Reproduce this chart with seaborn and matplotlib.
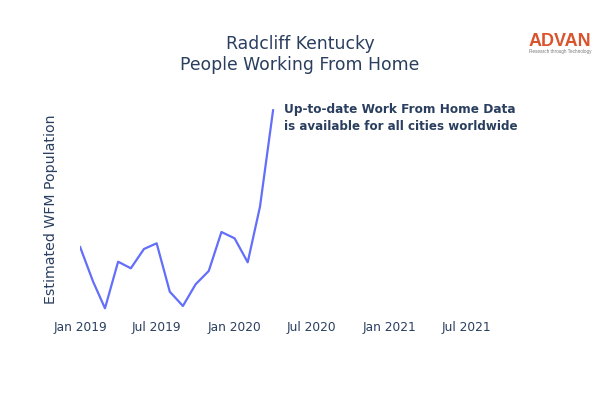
import pandas as pd
import matplotlib
matplotlib.use("Agg")
import matplotlib.pyplot as plt
import seaborn as sns

# Values (the y axis has no tick labels)
months = pd.date_range("2019-01-01", "2020-04-01", freq="MS")
wfh_population = [73.3, 38.3, 11.7, 58.3, 51.7, 71, 76.7, 28.3, 14, 35.7, 49, 88, 81.7, 57.7, 113.3, 210]
tick_dates = pd.to_datetime(["2019-01-01", "2019-07-01", "2020-01-01", "2020-07-01", "2021-01-01", "2021-07-01"])
tick_labels = ["Jan 2019", "Jul 2019", "Jan 2020", "Jul 2020", "Jan 2021", "Jul 2021"]

df = pd.DataFrame({"month": months, "wfh": wfh_population})

sns.set_theme(style="white")
text_color = "#2a3f5f"

fig = plt.figure(figsize=(6, 4), dpi=100)
ax = fig.add_axes([80 / 600, 80 / 400, 440 / 600, 240 / 400])
sns.lineplot(data=df, x="month", y="wfh", color="#636efa", linewidth=1.6, ax=ax)

ax.set_xlim(pd.Timestamp("2019-01-01"), pd.Timestamp("2021-11-05"))
ax.set_ylim(0, 240)
ax.set_xticks(tick_dates)
ax.set_xticklabels(tick_labels, fontsize=8.8, color=text_color)
ax.tick_params(axis="x", length=0, pad=1)
ax.set_yticks([])
ax.set_xlabel("")
ax.set_ylabel("")
sns.despine(ax=ax, left=True, bottom=True)

fig.text(51 / 600, 1 - 209 / 400, "Estimated WFM Population", rotation=90, fontsize=10.2,
         color=text_color, ha="center", va="center")
fig.text(300 / 600, 1 - 44 / 400, "Radcliff Kentucky", fontsize=12.4, color=text_color, ha="center", va="center")
fig.text(300 / 600, 1 - 65 / 400, "People Working From Home", fontsize=12.4, color=text_color, ha="center", va="center")

fig.text(284 / 600, 1 - 110 / 400, "Up-to-date Work From Home Data", fontsize=8.7, fontweight="bold",
         color=text_color, ha="left", va="center")
fig.text(284 / 600, 1 - 126 / 400, "is available for all cities worldwide", fontsize=8.6, fontweight="bold",
         color=text_color, ha="left", va="center")

# logo
fig.text(560 / 600, 1 - 41 / 400, "ADVAN", fontsize=13, color="#d9532c", ha="center", va="center",
         family="Liberation Sans", fontweight="bold")
fig.text(560 / 600, 1 - 52 / 400, "Research through Technology", fontsize=3.3, color="#777777", ha="center",
         va="center", family="Liberation Sans")

fig.savefig("out.png", dpi=100)
